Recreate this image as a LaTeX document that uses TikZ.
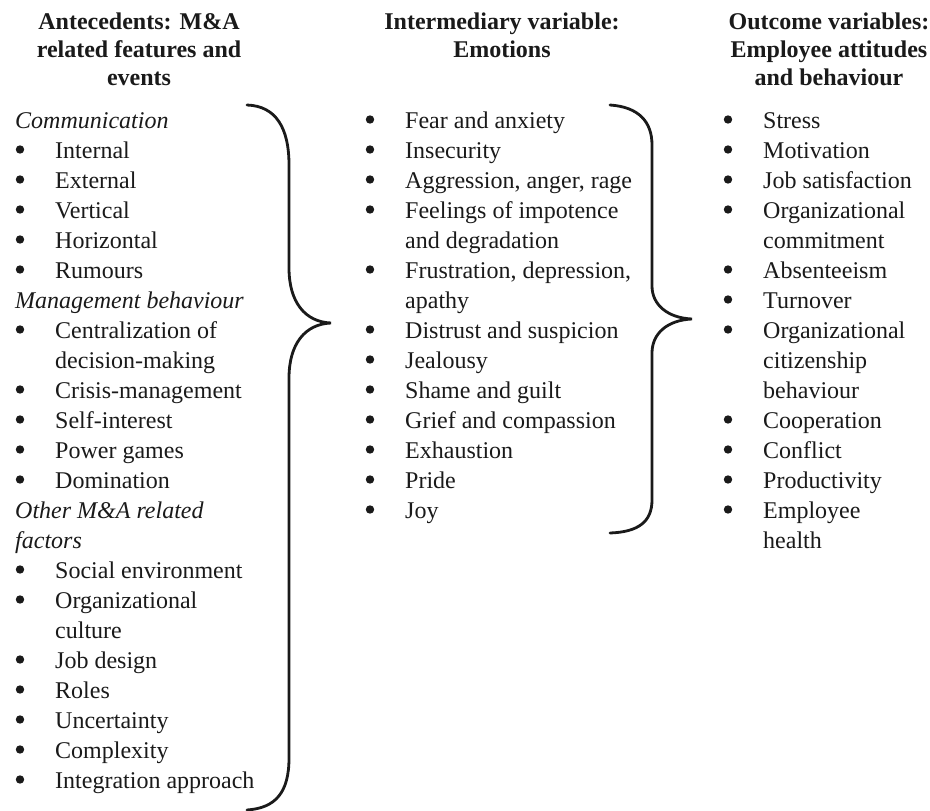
\documentclass[tikz,border=0pt]{standalone}
\usepackage{fontspec}
\setmainfont{Liberation Serif}
\definecolor{ink}{HTML}{1A1A1A}
\begin{document}
\begin{tikzpicture}[x=1pt,y=-1pt,
  txt/.style={anchor=base west, inner sep=0pt, font=\fontsize{24}{30}\selectfont, text=ink},
  itx/.style={anchor=base west, inner sep=0pt, font=\fontsize{24}{30}\selectfont\itshape, text=ink},
  hd/.style={anchor=base, inner sep=0pt, font=\fontsize{24}{28}\selectfont\bfseries, text=ink},
  bul/.style={circle, fill=ink, inner sep=0pt, minimum size=8.4pt},
  bracestroke/.style={line width=2.8pt, draw=ink, line cap=round}]
\useasboundingbox (0,0) rectangle (930,811);
\fill[white] (0,0) rectangle (930,811);

% headers
\node[hd] (h1a) at (139,29) {Antecedents: M\&A};
\node[hd] (h1b) at (139,57) {related features and};
\node[hd] (h1c) at (139,85) {events};
\node[hd] (h2a) at (502,29) {Intermediary variable:};
\node[hd] (h2b) at (502,57) {Emotions};
\node[hd] (h3a) at (829,29) {Outcome variables:};
\node[hd] (h3b) at (829,57) {Employee attitudes};
\node[hd] (h3c) at (829,85) {and behaviour};

% left column
\node[itx] (l0) at (15,128) {Communication};
\node[bul] (b1) at (20,149.5) {}; \node[txt] (l1) at (55,158) {Internal};
\node[bul] (b2) at (20,179.5) {}; \node[txt] (l2) at (55,188) {External};
\node[bul] (b3) at (20,209.5) {}; \node[txt] (l3) at (55,218) {Vertical};
\node[bul] (b4) at (20,239.5) {}; \node[txt] (l4) at (55,248) {Horizontal};
\node[bul] (b5) at (20,269.5) {}; \node[txt] (l5) at (55,278) {Rumours};
\node[itx] (l6) at (15,308) {Management behaviour};
\node[bul] (b7) at (20,329.5) {}; \node[txt] (l7) at (55,338) {Centralization of};
\node[txt] (l8) at (55,368) {decision-making};
\node[bul] (b9) at (20,389.5) {}; \node[txt] (l9) at (55,398) {Crisis-management};
\node[bul] (b10) at (20,419.5) {}; \node[txt] (l10) at (55,428) {Self-interest};
\node[bul] (b11) at (20,449.5) {}; \node[txt] (l11) at (55,458) {Power games};
\node[bul] (b12) at (20,479.5) {}; \node[txt] (l12) at (55,488) {Domination};
\node[itx] (l13) at (15,518) {Other M\&A related};
\node[itx] (l14) at (15,548) {factors};
\node[bul] (b15) at (20,569.5) {}; \node[txt] (l15) at (55,578) {Social environment};
\node[bul] (b16) at (20,599.5) {}; \node[txt] (l16) at (55,608) {Organizational};
\node[txt] (l17) at (55,638) {culture};
\node[bul] (b18) at (20,659.5) {}; \node[txt] (l18) at (55,668) {Job design};
\node[bul] (b19) at (20,689.5) {}; \node[txt] (l19) at (55,698) {Roles};
\node[bul] (b20) at (20,719.5) {}; \node[txt] (l20) at (55,728) {Uncertainty};
\node[bul] (b21) at (20,749.5) {}; \node[txt] (l21) at (55,758) {Complexity};
\node[bul] (b22) at (20,779.5) {}; \node[txt] (l22) at (55,788) {Integration approach};

% middle column
\node[bul] (mb0) at (370,119.5) {}; \node[txt] (m0) at (405,128) {Fear and anxiety};
\node[bul] (mb1) at (370,149.5) {}; \node[txt] (m1) at (405,158) {Insecurity};
\node[bul] (mb2) at (370,179.5) {}; \node[txt] (m2) at (405,188) {Aggression, anger, rage};
\node[bul] (mb3) at (370,209.5) {}; \node[txt] (m3) at (405,218) {Feelings of impotence};
\node[txt] (m4) at (405,248) {and degradation};
\node[bul] (mb5) at (370,269.5) {}; \node[txt] (m5) at (405,278) {Frustration, depression,};
\node[txt] (m6) at (405,308) {apathy};
\node[bul] (mb7) at (370,329.5) {}; \node[txt] (m7) at (405,338) {Distrust and suspicion};
\node[bul] (mb8) at (370,359.5) {}; \node[txt] (m8) at (405,368) {Jealousy};
\node[bul] (mb9) at (370,389.5) {}; \node[txt] (m9) at (405,398) {Shame and guilt};
\node[bul] (mb10) at (370,419.5) {}; \node[txt] (m10) at (405,428) {Grief and compassion};
\node[bul] (mb11) at (370,449.5) {}; \node[txt] (m11) at (405,458) {Exhaustion};
\node[bul] (mb12) at (370,479.5) {}; \node[txt] (m12) at (405,488) {Pride};
\node[bul] (mb13) at (370,509.5) {}; \node[txt] (m13) at (405,518) {Joy};

% right column
\node[bul] (rb0) at (728,119.5) {}; \node[txt] (r0) at (763,128) {Stress};
\node[bul] (rb1) at (728,149.5) {}; \node[txt] (r1) at (763,158) {Motivation};
\node[bul] (rb2) at (728,179.5) {}; \node[txt] (r2) at (763,188) {Job satisfaction};
\node[bul] (rb3) at (728,209.5) {}; \node[txt] (r3) at (763,218) {Organizational};
\node[txt] (r4) at (763,248) {commitment};
\node[bul] (rb5) at (728,269.5) {}; \node[txt] (r5) at (763,278) {Absenteeism};
\node[bul] (rb6) at (728,299.5) {}; \node[txt] (r6) at (763,308) {Turnover};
\node[bul] (rb7) at (728,329.5) {}; \node[txt] (r7) at (763,338) {Organizational};
\node[txt] (r8) at (763,368) {citizenship};
\node[txt] (r9) at (763,398) {behaviour};
\node[bul] (rb10) at (728,419.5) {}; \node[txt] (r10) at (763,428) {Cooperation};
\node[bul] (rb11) at (728,449.5) {}; \node[txt] (r11) at (763,458) {Conflict};
\node[bul] (rb12) at (728,479.5) {}; \node[txt] (r12) at (763,488) {Productivity};
\node[bul] (rb13) at (728,509.5) {}; \node[txt] (r13) at (763,518) {Employee};
\node[txt] (r14) at (763,548) {health};

% left brace
\draw[bracestroke] (247,105) .. controls (276,106) and (289,128) .. (289,165)
  -- (289,268) .. controls (289,302) and (305,322) .. (331,323)
  .. controls (305,324) and (289,344) .. (289,378)
  -- (289,758) .. controls (289,792) and (276,808) .. (247,810);

% right brace
\draw[bracestroke] (610,105) .. controls (639,107) and (652,122) .. (652,145)
  -- (652,286) .. controls (652,305) and (668,318) .. (692,319)
  .. controls (668,320) and (652,333) .. (652,353)
  -- (652,500) .. controls (652,522) and (638,532) .. (610,533);
\end{tikzpicture}
\end{document}
